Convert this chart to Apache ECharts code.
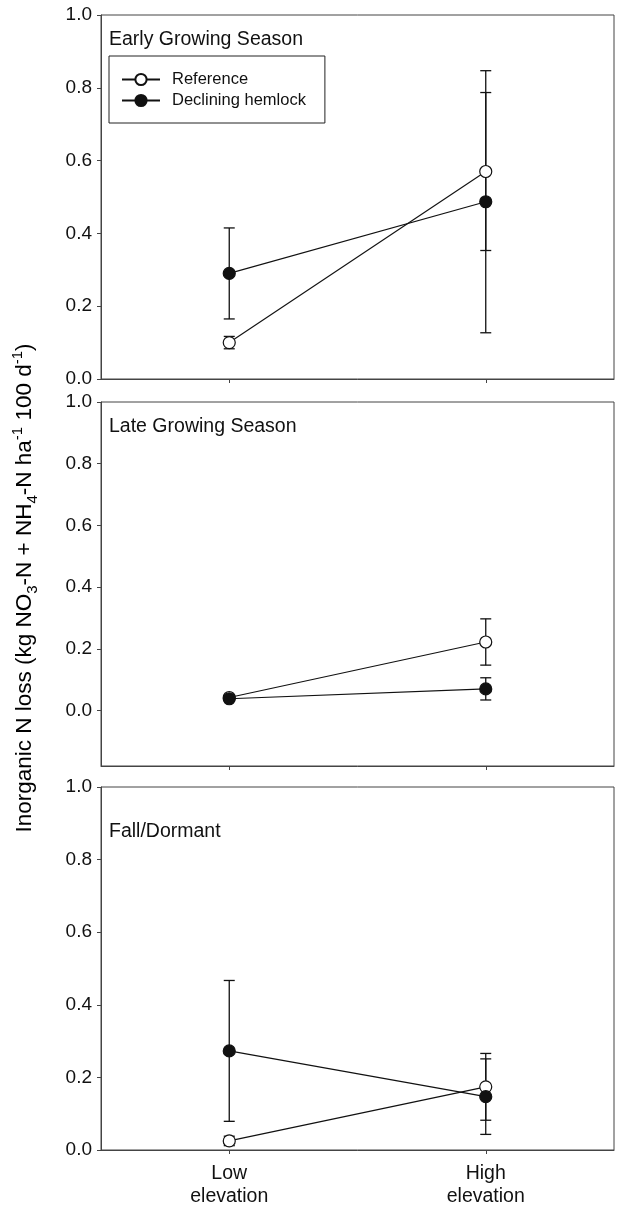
<!DOCTYPE html>
<html>
<head>
<meta charset="utf-8">
<script src="https://cdn.jsdelivr.net/npm/echarts@6/dist/echarts.min.js"></script>
<style>
html,body{margin:0;padding:0;background:#fff;}
#main{width:617px;height:1209px;}
</style>
</head>
<body>
<div id="main"></div>
<script>
// ---- data ----
const categories = ['Low\nelevation', 'High\nelevation'];
const panelNames = ['Early Growing Season', 'Late Growing Season', 'Fall/Dormant'];
const seriesNames = ['Reference', 'Declining hemlock'];
const refMeans = [[0.100, 0.570], [0.042, 0.222], [0.025, 0.174]];
const refErr   = [[0.017, 0.217], [0.005, 0.075], [0.013, 0.092]];
const decMeans = [[0.290, 0.487], [0.038, 0.070], [0.273, 0.147]];
const decErr   = [[0.125, 0.360], [0.005, 0.036], [0.194, 0.104]];
const yTickValues = [0, 0.2, 0.4, 0.6, 0.8, 1.0];
const yMins = [0, -0.18, 0];
const yMax = 1.0;

// ---- layout ----
const FONT = 'Liberation Sans, Arial, Helvetica, sans-serif';
const grids = [
  {left: 101, top: 15, width: 513, height: 364},
  {left: 101, top: 402, width: 513, height: 364},
  {left: 101, top: 787, width: 513, height: 363}
];
const titleTops = [30, 417, 822];
const AX = '#444';
const INK = '#111';

const option = {
  animation: false,
  backgroundColor: '#fff',
  grid: grids.map(g => Object.assign({show: true, borderColor: AX, borderWidth: 1, containLabel: false}, g)),
  title: panelNames.map((t, i) => ({
    text: t, left: 109, top: titleTops[i], padding: 0,
    textStyle: {fontFamily: FONT, fontSize: 19.5, fontWeight: 'normal', color: INK, lineHeight: 20}
  })),
  legend: {
    data: seriesNames,
    orient: 'vertical',
    left: 109, top: 56,
    padding: [15, 19, 14, 12],
    itemGap: 4,
    itemWidth: 38,
    itemHeight: 14,
    borderColor: '#222',
    borderWidth: 1,
    textStyle: {fontFamily: FONT, fontSize: 16.5, color: INK, padding: [0, 0, 0, 7]}
  },
  xAxis: grids.map((g, i) => ({
    type: 'category', gridIndex: i, data: categories, boundaryGap: true,
    axisLine: {onZero: false, lineStyle: {color: AX, width: 1}},
    axisTick: {show: true, alignWithLabel: true, length: 4, lineStyle: {color: AX}},
    axisLabel: {show: i === 2, fontFamily: FONT, fontSize: 19.5, color: INK, lineHeight: 23, margin: 12},
    splitLine: {show: false}
  })),
  yAxis: grids.map((g, i) => ({
    type: 'value', gridIndex: i, min: yMins[i], max: yMax,
    axisLine: {show: true, onZero: false, lineStyle: {color: AX, width: 1}},
    axisTick: {show: true, length: 4, lineStyle: {color: AX}, customValues: yTickValues},
    axisLabel: {fontFamily: FONT, fontSize: 19, color: INK, margin: 9,
      customValues: yTickValues, formatter: v => Number(v).toFixed(1)},
    splitLine: {show: false}
  })),
  graphic: [{
    type: 'text',
    x: 25, y: 588,
    rotation: Math.PI / 2,
    style: {
      text: '{a|Inorganic N loss (kg NO}{s|3}{a|-N + NH}{s|4}{a|-N ha}{p|-1}{a| 100 d}{p|-1}{a|)}',
      align: 'center', verticalAlign: 'middle',
      rich: {
        a: {fontFamily: FONT, fontSize: 22.5, color: INK, lineHeight: 30},
        s: {fontFamily: FONT, fontSize: 15, color: INK, lineHeight: 30, verticalAlign: 'bottom'},
        p: {fontFamily: FONT, fontSize: 15, color: INK, lineHeight: 30, verticalAlign: 'top'}
      }
    }
  }],
  series: []
};

function errSeries(i, means, errs) {
  return {
    type: 'custom', xAxisIndex: i, yAxisIndex: i, z: 1, silent: true,
    data: means.map((m, k) => [k, m - errs[k], m + errs[k]]),
    encode: {x: 0, y: [1, 2]},
    renderItem: function (params, api) {
      const lo = api.coord([api.value(0), api.value(1)]);
      const hi = api.coord([api.value(0), api.value(2)]);
      const w = 5.5;
      const st = {stroke: INK, lineWidth: 1.3};
      return {type: 'group', children: [
        {type: 'line', shape: {x1: lo[0], y1: lo[1], x2: hi[0], y2: hi[1]}, style: st},
        {type: 'line', shape: {x1: lo[0] - w, y1: lo[1], x2: lo[0] + w, y2: lo[1]}, style: st},
        {type: 'line', shape: {x1: hi[0] - w, y1: hi[1], x2: hi[0] + w, y2: hi[1]}, style: st}
      ]};
    }
  };
}

for (let i = 0; i < 3; i++) {
  option.series.push(errSeries(i, refMeans[i], refErr[i]));
  option.series.push(errSeries(i, decMeans[i], decErr[i]));
  option.series.push({
    name: seriesNames[0], type: 'line', xAxisIndex: i, yAxisIndex: i, z: 3,
    data: refMeans[i], symbol: 'circle', symbolSize: 12,
    lineStyle: {color: INK, width: 1.2},
    itemStyle: {color: '#fff', borderColor: INK, borderWidth: 1.2}
  });
  option.series.push({
    name: seriesNames[1], type: 'line', xAxisIndex: i, yAxisIndex: i, z: 4,
    data: decMeans[i], symbol: 'circle', symbolSize: 12,
    lineStyle: {color: INK, width: 1.2},
    itemStyle: {color: INK, borderColor: INK, borderWidth: 1.2}
  });
}

const chart = echarts.init(document.getElementById('main'), null, {renderer: 'canvas'});
chart.setOption(option);
</script>
</body>
</html>
